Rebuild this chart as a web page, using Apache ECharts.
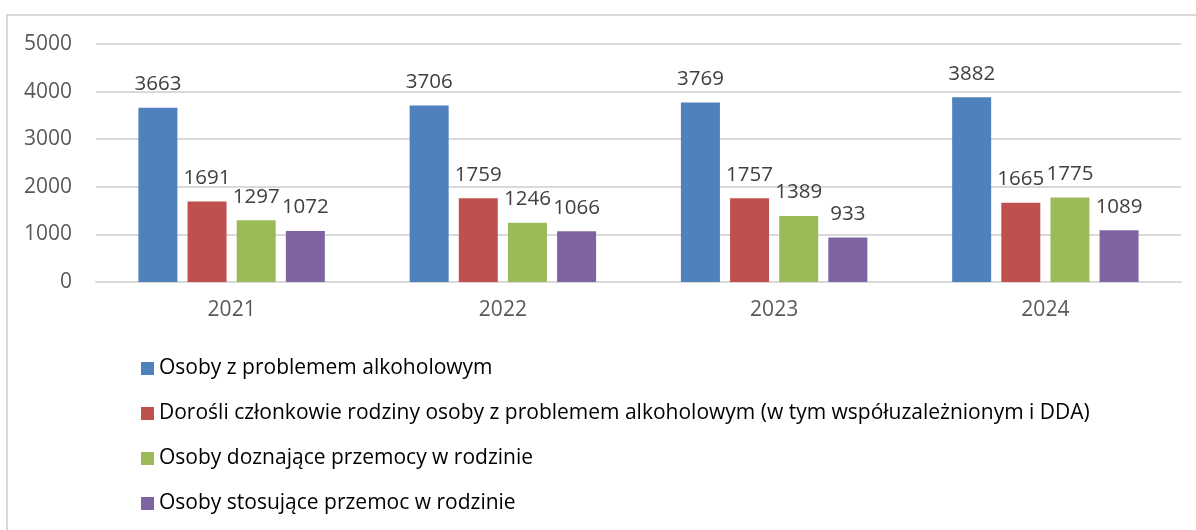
<!DOCTYPE html>
<html>
<head>
<meta charset="utf-8">
<script src="https://cdn.jsdelivr.net/npm/echarts@6/dist/echarts.min.js"></script>
<style>
  html, body { margin: 0; padding: 0; background: #fff; }
  #chart { width: 1196px; height: 530px; }
</style>
</head>
<body>
<div id="chart"></div>
<script>
// dane
const years = ['2021', '2022', '2023', '2024']
const seriesNames = [
  'Osoby z problemem alkoholowym',
  'Dorośli członkowie rodziny osoby z problemem alkoholowym (w tym współuzależnionym i DDA)',
  'Osoby doznające przemocy w rodzinie',
  'Osoby stosujące przemoc w rodzinie'
]
const alkohol = [3663, 3706, 3769, 3882]
const rodzina = [1691, 1759, 1757, 1665]
const doznajace = [1297, 1246, 1389, 1775]
const stosujace = [1072, 1066, 933, 1089]
const colors = ['#4f81bd', '#c0504d', '#9bbb59', '#8064a2']

const font = '"Open Sans", sans-serif'

const chart = echarts.init(document.getElementById('chart'))

const makeSeries = (name, data, color) => ({
  name: name,
  type: 'bar',
  data: data,
  barWidth: 39,
  barGap: '26%',
  itemStyle: { color: color },
  label: {
    show: true,
    position: 'top',
    distance: 13,
    color: '#404040',
    fontSize: 20.5,
    fontFamily: font
  }
})

const option = {
  animation: false,
  color: colors,
  graphic: [{
    type: 'rect',
    shape: { x: 7, y: 15, width: 1200, height: 530 },
    style: { fill: 'none', stroke: '#d9d9d9', lineWidth: 2 },
    silent: true
  }],
  grid: {
    left: 96,
    right: 15,
    top: 44,
    bottom: 248,
    containLabel: false
  },
  legend: {
    orient: 'vertical',
    left: 136,
    top: 353,
    itemWidth: 13,
    itemHeight: 13,
    itemGap: 24,
    icon: 'rect',
    textStyle: { color: '#000', fontSize: 21, fontFamily: font },
    data: seriesNames
  },
  xAxis: {
    type: 'category',
    data: years,
    axisLine: { lineStyle: { color: '#d9d9d9', width: 2 } },
    axisTick: { show: false },
    axisLabel: { color: '#595959', fontSize: 21, fontFamily: font, margin: 18 }
  },
  yAxis: {
    type: 'value',
    min: 0,
    max: 5000,
    interval: 1000,
    axisLine: { show: false },
    axisTick: { show: false },
    splitLine: { lineStyle: { color: '#d9d9d9', width: 2 } },
    axisLabel: { color: '#595959', fontSize: 21, fontFamily: font, margin: 24, formatter: v => String(v) }
  },
  series: [
    makeSeries(seriesNames[0], alkohol, colors[0]),
    makeSeries(seriesNames[1], rodzina, colors[1]),
    makeSeries(seriesNames[2], doznajace, colors[2]),
    makeSeries(seriesNames[3], stosujace, colors[3])
  ]
}

chart.setOption(option)
</script>
</body>
</html>
